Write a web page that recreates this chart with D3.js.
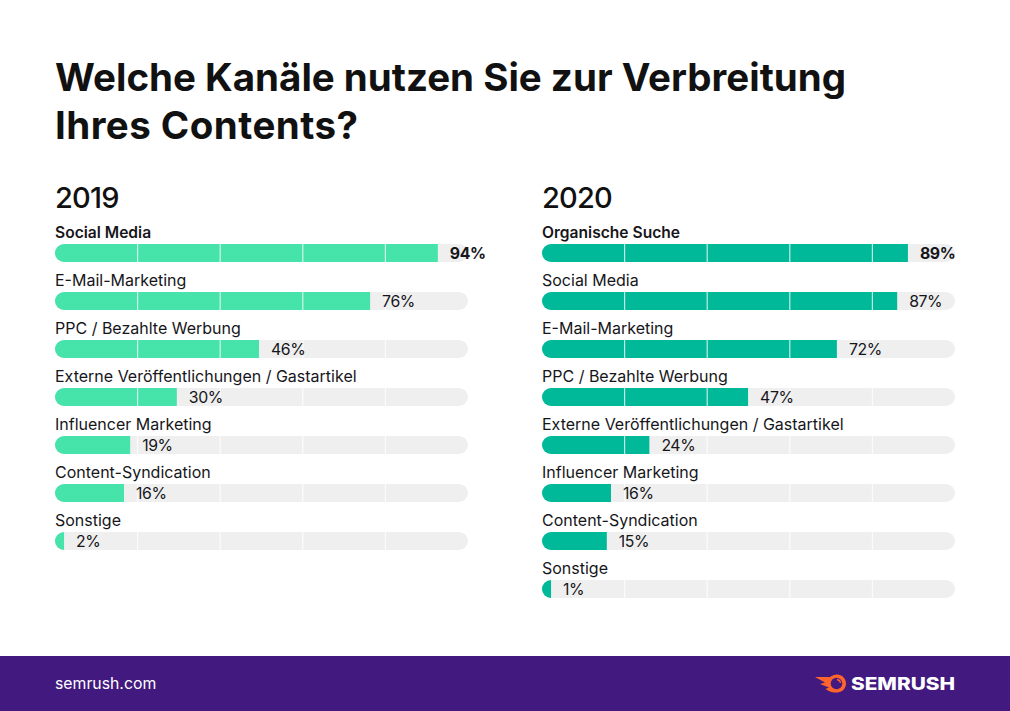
<!DOCTYPE html>
<html>
<head>
<meta charset="utf-8">
<script src="https://cdnjs.cloudflare.com/ajax/libs/d3/7.8.5/d3.min.js"></script>
<style>
	html, body { margin: 0; padding: 0; background: #fff; }
	svg { display: block; }
	text { font-family: Inter, sans-serif; fill: #16161a; }
</style>
</head>
<body>
<svg width="1010" height="711"></svg>
<script>
var titleLines = ["Welche Kanäle nutzen Sie zur Verbreitung", "Ihres Contents?"];

var categories2019 = ["Social Media", "E-Mail-Marketing", "PPC / Bezahlte Werbung", "Externe Veröffentlichungen / Gastartikel", "Influencer Marketing", "Content-Syndication", "Sonstige"];
var labels2019 = [94, 76, 46, 30, 19, 16, 2];
// bar lengths as drawn in the picture, they differ a bit from the printed percents
var lengths2019 = [92.7, 76.3, 49.4, 29.5, 18.2, 16.7, 2.2];

var categories2020 = ["Organische Suche", "Social Media", "E-Mail-Marketing", "PPC / Bezahlte Werbung", "Externe Veröffentlichungen / Gastartikel", "Influencer Marketing", "Content-Syndication", "Sonstige"];
var labels2020 = [89, 87, 72, 47, 24, 16, 15, 1];
var lengths2020 = [88.6, 86, 71.4, 49.9, 26, 16.7, 15.7, 2.2];

var gridTicks = [20, 40, 60, 80];

var svg = d3.select("svg");

svg.selectAll("text.title")
	.data(titleLines)
	.enter()
	.append("text")
	.attr("class", "title")
	.attr("x", 55)
	.attr("y", function (d, i) { return 91 + i * 48; })
	.attr("textLength", function (d, i) { return i ? 303 : 791; })
	.style("font-size", "38.5px")
	.style("font-weight", 700)
	.style("fill", "#111")
	.text(function (d) { return d; });

drawPanel("2019", 55, categories2019, labels2019, lengths2019, "#46e3ab");
drawPanel("2020", 542, categories2020, labels2020, lengths2020, "#00b998");

function drawPanel(year, left, categories, labels, lengths, color) {
	var x = d3.scaleLinear().domain([0, 100]).range([left, left + 413]);
	var y = d3.scaleBand()
		.domain(categories)
		.range([220, 220 + categories.length * 48]);

	var g = svg.append("g");

	g.append("text")
		.attr("x", left)
		.attr("y", 208)
		.style("font-size", "29px")
		.style("font-weight", 500)
		.style("letter-spacing", "-0.8px")
		.style("fill", "#111")
		.text(year);

	var rows = g.selectAll("g.row")
		.data(categories)
		.enter()
		.append("g")
		.attr("class", "row")
		.attr("transform", function (d) { return "translate(0," + y(d) + ")"; });

	rows.append("text")
		.attr("x", left)
		.attr("y", 18)
		.style("font-size", function (d, i) { return i ? "16px" : "15.6px"; })
		.style("font-weight", function (d, i) { return i ? 400 : 600; })
		.text(function (d) { return d; });

	// grey track
	rows.append("rect")
		.attr("x", x(0))
		.attr("y", 24)
		.attr("width", x(100) - x(0))
		.attr("height", 18)
		.attr("rx", 9)
		.attr("fill", "#efefef");

	// filled part, only the left end is round
	rows.append("path")
		.attr("fill", color)
		.attr("d", function (d, i) {
			var end = x(lengths[i]);
			return "M" + end + ",24 H" + (x(0) + 9)
				+ " A9,9 0 0 0 " + x(0) + ",33"
				+ " A9,9 0 0 0 " + (x(0) + 9) + ",42 H" + end + " Z";
		});

	// white grid lines across the bars
	rows.selectAll("line")
		.data(gridTicks)
		.enter()
		.append("line")
		.attr("x1", function (d) { return x(d); })
		.attr("x2", function (d) { return x(d); })
		.attr("y1", 24)
		.attr("y2", 42)
		.attr("stroke", "#fff")
		.attr("stroke-width", 1.2)
		.attr("stroke-opacity", 0.75);

	rows.append("text")
		.attr("x", function (d, i) { return x(lengths[i]) + 12; })
		.attr("y", 39)
		.style("font-size", "15.8px")
		.style("letter-spacing", "-0.4px")
		.style("font-weight", function (d, i) { return i ? 400 : 700; })
		.text(function (d, i) { return labels[i] + "%"; });
}

// footer
svg.append("rect")
	.attr("x", 0)
	.attr("y", 656)
	.attr("width", 1010)
	.attr("height", 55)
	.attr("fill", "#42197f");

svg.append("text")
	.attr("x", 55)
	.attr("y", 689)
	.style("font-size", "15.8px")
	.style("fill", "#fff")
	.text("semrush.com");

var logo = svg.append("g");

// flame with its tail spikes
logo.append("path")
	.attr("fill", "#ff642d")
	.attr("d", "M815,677 H830 C832,675.500 834.500,674.500 837,674.500 C842,674.500 846,678.500 846,683.500 C846,688.500 842,692.500 837,692.500 C833,692.500 829.500,692 825.500,689 L829,687.500 L820,684 L825,682.500 Z");

logo.append("circle")
	.attr("cx", 836.5)
	.attr("cy", 683.5)
	.attr("r", 5.8)
	.attr("fill", "#42197f");

logo.append("path")
	.attr("fill", "none")
	.attr("stroke", "#ff642d")
	.attr("stroke-width", 1.3)
	.attr("d", "M837,679.500 A4,4 0 0 1 840.500,683");

logo.append("text")
	.attr("x", 851)
	.attr("y", 690)
	.attr("textLength", 104)
	.attr("lengthAdjust", "spacingAndGlyphs")
	.style("font-size", "17px")
	.style("font-weight", 800)
	.style("fill", "#fff")
	.text("SEMRUSH");
</script>
</body>
</html>
